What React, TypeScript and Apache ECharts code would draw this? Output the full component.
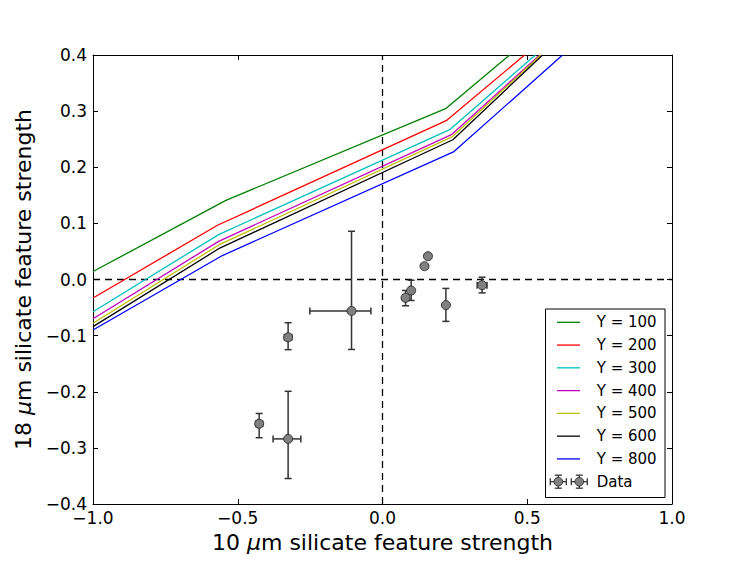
import React, { useEffect, useRef } from "react";
import * as echarts from "echarts";

// ---- data ----
const modelNames = ["Y = 100", "Y = 200", "Y = 300", "Y = 400", "Y = 500", "Y = 600", "Y = 800"];
const modelColors = ["#008000", "#ff0000", "#00bfbf", "#bf00bf", "#bfbf00", "#000000", "#0000ff"];
// each model curve: [x, y] vertices (clipped by the axes at y = 0.4)
const modelY100 = [[-1.0, 0.0142], [-0.541, 0.141], [0.22, 0.305], [0.439, 0.4]];
const modelY200 = [[-1.0, -0.033], [-0.57, 0.0966], [0.22, 0.283], [0.491, 0.4]];
const modelY300 = [[-1.0, -0.0575], [-0.566, 0.08], [0.232, 0.267], [0.528, 0.4]];
const modelY400 = [[-1.0, -0.07], [-0.566, 0.068], [0.238, 0.258], [0.543, 0.4]];
const modelY500 = [[-1.0, -0.078], [-0.564, 0.062], [0.24, 0.254], [0.547, 0.4]];
const modelY600 = [[-1.0, -0.084], [-0.562, 0.056], [0.243, 0.249], [0.553, 0.4]];
const modelY800 = [[-1.0, -0.09], [-0.553, 0.0427], [0.247, 0.228], [0.622, 0.4]];
const modelCurves = [modelY100, modelY200, modelY300, modelY400, modelY500, modelY600, modelY800];

// observed points with asymmetric errors
const obsX = [-0.107, -0.326, -0.426, -0.326, 0.0796, 0.099, 0.145, 0.157, 0.219, 0.344];
const obsY = [-0.056, -0.103, -0.257, -0.284, -0.0326, -0.0196, 0.0237, 0.0415, -0.0456, -0.0101];
const obsXErrLo = [0.144, 0.0127, 0.012, 0.052, 0.01, 0.005, 0.004, 0.004, 0.005, 0.017];
const obsXErrHi = [0.067, 0.0127, 0.012, 0.044, 0.01, 0.005, 0.004, 0.004, 0.005, 0.017];
const obsYErrLo = [0.0686, 0.022, 0.0249, 0.0706, 0.0142, 0.0178, 0.004, 0.004, 0.029, 0.0137];
const obsYErrHi = [0.142, 0.026, 0.0183, 0.0848, 0.013, 0.0183, 0.004, 0.004, 0.0297, 0.0142];

const xTicks = [-1.0, -0.5, 0.0, 0.5, 1.0];
const yTicks = [-0.4, -0.3, -0.2, -0.1, 0.0, 0.1, 0.2, 0.3, 0.4];

const FONT = "DejaVu Sans";
const ERR_COLOR = "#333333";
const MARKER_FILL = "#808080";

function fmt(v: number): string {
  const r = Math.round(v * 10) / 10;
  if (Math.abs(r) < 1e-9) return "0.0";
  return (r < 0 ? "\u2212" : "") + Math.abs(r).toFixed(1);
}

export default function App() {
  const ref = useRef<HTMLDivElement>(null);
  useEffect(() => {
    if (!ref.current) return;
    const chart = echarts.init(ref.current, undefined, { renderer: "svg" });

    const errData = obsX.map((x, i) => [x, obsY[i], obsXErrLo[i], obsXErrHi[i], obsYErrLo[i], obsYErrHi[i]]);
    const ptData = obsX.map((x, i) => [x, obsY[i]]);

    const tickCommon = {
      show: true,
      inside: true,
      length: 5,
      lineStyle: { color: "#000", width: 1 },
    };
    const lineCommon = { show: true, onZero: false, lineStyle: { color: "#000", width: 1 } };

    // legend drawn as graphic
    const lgLeft = 545.5;
    const lgTop = 309;
    const rowY0 = 322.3;
    const rowStep = 22.77;
    const legendChildren: any[] = [
      {
        type: "rect",
        shape: { x: lgLeft, y: lgTop, width: 119.5, height: 188.5 },
        style: { fill: "#fff", stroke: "#000", lineWidth: 1 },
      },
    ];
    modelNames.forEach((n, i) => {
      const yy = rowY0 + i * rowStep;
      legendChildren.push({
        type: "line",
        shape: { x1: 557, y1: yy, x2: 580, y2: yy },
        style: { stroke: modelColors[i], lineWidth: 1.3 },
      });
      legendChildren.push({
        type: "text",
        x: 596.7,
        y: yy,
        style: { text: n, fill: "#000", font: `15px '${FONT}'`, verticalAlign: "middle", align: "left" },
      });
    });
    const dataRowY = rowY0 + modelNames.length * rowStep;
    [558.3, 579.3].forEach((cx) => {
      const st = { stroke: ERR_COLOR, lineWidth: 1.3 };
      legendChildren.push({ type: "line", shape: { x1: cx - 8, y1: dataRowY, x2: cx + 8, y2: dataRowY }, style: st });
      legendChildren.push({ type: "line", shape: { x1: cx - 8, y1: dataRowY - 3.5, x2: cx - 8, y2: dataRowY + 3.5 }, style: st });
      legendChildren.push({ type: "line", shape: { x1: cx + 8, y1: dataRowY - 3.5, x2: cx + 8, y2: dataRowY + 3.5 }, style: st });
      legendChildren.push({ type: "line", shape: { x1: cx, y1: dataRowY - 6.5, x2: cx, y2: dataRowY + 6.5 }, style: st });
      legendChildren.push({ type: "line", shape: { x1: cx - 3.5, y1: dataRowY - 6.5, x2: cx + 3.5, y2: dataRowY - 6.5 }, style: st });
      legendChildren.push({ type: "line", shape: { x1: cx - 3.5, y1: dataRowY + 6.5, x2: cx + 3.5, y2: dataRowY + 6.5 }, style: st });
      legendChildren.push({
        type: "circle",
        shape: { cx, cy: dataRowY, r: 4.3 },
        style: { fill: MARKER_FILL, stroke: ERR_COLOR, lineWidth: 1 },
      });
    });
    legendChildren.push({
      type: "text",
      x: 596.7,
      y: dataRowY,
      style: { text: "Data", fill: "#000", font: `15px '${FONT}'`, verticalAlign: "middle", align: "left" },
    });

    const nameStyle = {
      color: "#000",
      fontSize: 22,
      fontFamily: FONT,
      rich: { i: { fontStyle: "italic", fontSize: 22, fontFamily: FONT, color: "#000" } },
    };

    const option: any = {
      animation: false,
      backgroundColor: "#fff",
      textStyle: { fontFamily: FONT },
      grid: { left: 93, top: 55, width: 579, height: 449, containLabel: false },
      xAxis: [
        {
          type: "value",
          position: "bottom",
          min: -1.0,
          max: 1.0,
          interval: 0.5,
          axisLine: lineCommon,
          axisTick: tickCommon,
          splitLine: { show: false },
          axisLabel: {
            show: true,
            margin: 7,
            color: "#000",
            fontSize: 17,
            lineHeight: 14,
            fontFamily: FONT,
            formatter: (v: number) => fmt(v),
          },
          name: "10 {i|\u03bc}m silicate feature strength",
          nameLocation: "middle",
          nameGap: 27,
          nameTextStyle: nameStyle,
        },
        {
          type: "value",
          position: "top",
          min: -1.0,
          max: 1.0,
          interval: 0.5,
          axisLine: lineCommon,
          axisTick: tickCommon,
          axisLabel: { show: false },
          splitLine: { show: false },
        },
      ],
      yAxis: [
        {
          type: "value",
          position: "left",
          min: -0.4,
          max: 0.4,
          interval: 0.1,
          axisLine: lineCommon,
          axisTick: tickCommon,
          splitLine: { show: false },
          axisLabel: {
            show: true,
            margin: 6,
            color: "#000",
            fontSize: 17,
            lineHeight: 12,
            fontFamily: FONT,
            formatter: (v: number) => fmt(v),
          },
          name: "18 {i|\u03bc}m silicate feature strength",
          nameLocation: "middle",
          nameRotate: 90,
          nameGap: 57,
          nameTextStyle: nameStyle,
        },
        {
          type: "value",
          position: "right",
          min: -0.4,
          max: 0.4,
          interval: 0.1,
          axisLine: lineCommon,
          axisTick: tickCommon,
          axisLabel: { show: false },
          splitLine: { show: false },
        },
      ],
      series: [
        {
          type: "line",
          name: "zero-x",
          data: [[0, yTicks[0]], [0, yTicks[yTicks.length - 1]]],
          symbol: "none",
          silent: true,
          lineStyle: { color: "#000", width: 1.3, type: [7, 5] },
          z: 1,
        },
        {
          type: "line",
          name: "zero-y",
          data: [[xTicks[0], 0], [xTicks[xTicks.length - 1], 0]],
          symbol: "none",
          silent: true,
          lineStyle: { color: "#000", width: 1.3, type: [7, 5] },
          z: 1,
        },
        ...modelCurves.map((c, i) => ({
          type: "line",
          name: modelNames[i],
          data: c,
          symbol: "none",
          clip: true,
          lineStyle: { color: modelColors[i], width: 1.3 },
          z: 2,
        })),
        {
          type: "custom",
          name: "Data errors",
          data: errData,
          z: 3,
          renderItem: (params: any, api: any) => {
            const x = api.value(0);
            const y = api.value(1);
            const l = api.coord([x - api.value(2), y]);
            const r = api.coord([x + api.value(3), y]);
            const b = api.coord([x, y - api.value(4)]);
            const t = api.coord([x, y + api.value(5)]);
            const cap = 3.5;
            const st = { stroke: ERR_COLOR, lineWidth: 1.5 };
            return {
              type: "group",
              children: [
                { type: "line", shape: { x1: l[0], y1: l[1], x2: r[0], y2: r[1] }, style: st },
                { type: "line", shape: { x1: l[0], y1: l[1] - cap, x2: l[0], y2: l[1] + cap }, style: st },
                { type: "line", shape: { x1: r[0], y1: r[1] - cap, x2: r[0], y2: r[1] + cap }, style: st },
                { type: "line", shape: { x1: t[0], y1: t[1], x2: b[0], y2: b[1] }, style: st },
                { type: "line", shape: { x1: t[0] - cap, y1: t[1], x2: t[0] + cap, y2: t[1] }, style: st },
                { type: "line", shape: { x1: b[0] - cap, y1: b[1], x2: b[0] + cap, y2: b[1] }, style: st },
              ],
            };
          },
        },
        {
          type: "scatter",
          name: "Data",
          data: ptData,
          symbol: "circle",
          symbolSize: 9,
          itemStyle: { color: MARKER_FILL, borderColor: ERR_COLOR, borderWidth: 1, opacity: 1 },
          z: 4,
        },
      ],
      graphic: [{ type: "group", z: 100, children: legendChildren }],
    };
    chart.setOption(option);
    return () => chart.dispose();
  }, []);

  return (
    <div
      ref={ref}
      style={{ position: "fixed", left: 0, top: 0, width: 747, height: 561, background: "#fff" }}
    />
  );
}
